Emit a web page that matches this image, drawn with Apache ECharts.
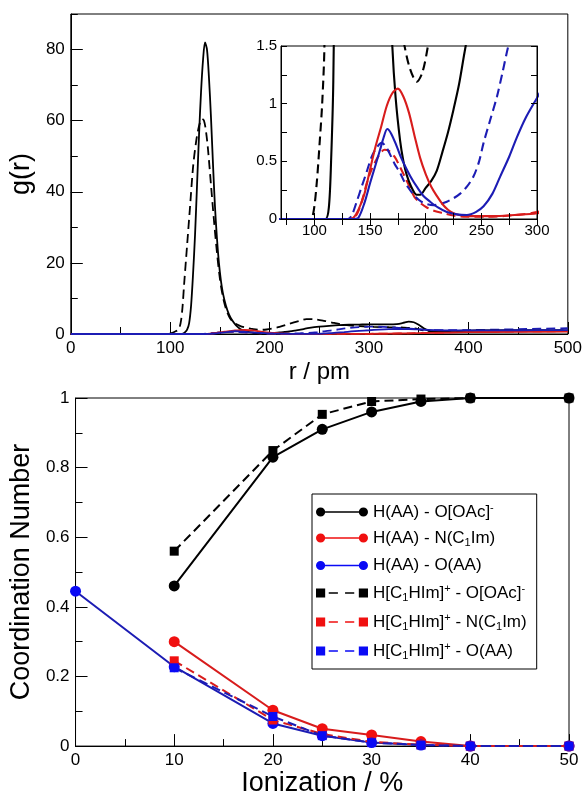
<!DOCTYPE html>
<html><head><meta charset="utf-8">
<script src="https://cdn.jsdelivr.net/npm/echarts@6/dist/echarts.min.js"></script>
<style>html,body{margin:0;padding:0;background:#fff}#c{width:585px;height:798px}</style>
</head><body><div id="c"></div>
<script>
// ---------- Top panel: g(r), pairs of [r / pm, g(r)] ----------
const grHAA_OOAc = [[0,0],[105,0],[110,0],[113,0.1],[115,0.5],[117,1.2],[119,3],[121,8],[123,17],[125,28],[127,42],[129,56],[131,68],[133,77],[135,82],[137,80],[139,72],[141,61],[143,48],[145,36],[147,27],[149,20],[151,15],[153,11.5],[156,8],[159,5.6],[162,4],[166,2.5],[170,1.5],[173,1.05],[177,0.68],[180,0.5],[183,0.38],[187,0.28],[192,0.21],[195,0.21],[200,0.27],[205,0.33],[210,0.42],[215,0.58],[220,0.75],[225,0.95],[230,1.17],[235,1.45],[240,1.7],[250,2.05],[260,2.3],[270,2.5],[280,2.6],[290,2.65],[300,2.7],[310,2.7],[320,2.7],[328,2.8],[334,3.1],[340,3.5],[345,3.3],[350,2.6],[355,1.6],[360,0.9],[366,0.75],[375,0.8],[390,0.9],[410,1.0],[440,1.0],[470,1.0],[500,1.0]];
const grHAA_NC1Im = [[0,0],[130,0],[135,0.01],[140,0.09],[145,0.22],[150,0.43],[155,0.63],[160,0.8],[165,0.98],[170,1.09],[175,1.13],[180,1.06],[185,0.92],[190,0.72],[195,0.53],[200,0.39],[205,0.28],[210,0.2],[215,0.13],[220,0.08],[225,0.05],[230,0.035],[240,0.025],[260,0.025],[280,0.035],[300,0.05],[320,0.1],[340,0.2],[360,0.3],[380,0.4],[400,0.5],[450,0.6],[500,0.65]];
const grHAA_OAA = [[0,0],[135,0],[139.5,0.01],[145,0.14],[150,0.31],[155,0.47],[159,0.6],[162,0.7],[165.5,0.78],[169,0.74],[174,0.63],[178,0.53],[183,0.43],[188,0.34],[192,0.28],[198,0.2],[204,0.15],[211,0.1],[219,0.06],[228,0.04],[237,0.035],[245,0.06],[252,0.11],[260,0.22],[267,0.37],[275,0.54],[282,0.71],[290,0.88],[300,1.05],[310,1.22],[320,1.35],[330,1.4],[340,1.38],[350,1.28],[360,1.15],[380,1.02],[400,1.0],[450,1.05],[500,1.1]];
const grHC1HIm_OOAc = [[0,0],[96,0],[99,0.05],[102,0.3],[105,0.7],[107,1.0],[109,1.5],[111,4],[112.5,8],[114,14],[117,25],[120,36],[123,47],[126,54],[129,58.5],[132,60.5],[134,60],[136,57],[138,52],[141,42],[144,32],[147,23],[150,15.5],[153,10.5],[156,7.2],[160,4.5],[165,3.0],[170,2.3],[175,1.85],[181,1.5],[186,1.3],[192,1.19],[197,1.27],[202,1.5],[210,2.0],[220,2.9],[230,3.7],[237,4.2],[245,4.15],[255,3.7],[265,3.1],[275,2.6],[290,2.2],[305,2.0],[320,1.9],[335,1.8],[345,1.6],[355,1.0],[365,0.7],[380,0.8],[400,0.9],[450,1.0],[500,1.05]];
const grHC1HIm_NC1Im = [[0,0],[132,0],[136,0.01],[140,0.08],[144,0.2],[147,0.31],[151,0.42],[156,0.52],[160,0.58],[163,0.6],[167,0.59],[172,0.54],[177,0.45],[181,0.37],[186,0.27],[190,0.19],[195,0.14],[201,0.1],[208,0.07],[216,0.05],[225,0.03],[234,0.02],[255,0.02],[276,0.03],[300,0.06],[320,0.12],[340,0.2],[360,0.3],[380,0.45],[400,0.55],[450,0.7],[500,0.8]];
const grHC1HIm_OAA = [[0,0],[130,0],[133.5,0.03],[138,0.15],[142.5,0.28],[147,0.41],[151.5,0.54],[156,0.62],[160.5,0.66],[164,0.63],[168,0.56],[172,0.48],[177,0.4],[181,0.32],[186,0.25],[191,0.19],[196,0.15],[201,0.13],[207,0.12],[213,0.13],[219,0.15],[225,0.18],[231,0.22],[237,0.28],[243,0.37],[248,0.5],[252,0.66],[258,0.86],[264,1.06],[269,1.27],[274,1.49],[280,1.7],[290,1.95],[300,2.05],[315,2.0],[330,1.75],[345,1.45],[360,1.15],[380,1.05],[400,1.1],[450,1.35],[500,1.65]];

// Tick labels
const mainXTicks = [0,100,200,300,400,500];
const mainYTicks = [0,20,40,60,80];
const insetXLabels = [100,150,200,250,300];
const insetXTicks = [75,100,125,150,175,200,225,250,275,300];
const insetYLabels = [0,0.5,1,1.5];

// ---------- Bottom panel: coordination numbers ----------
const ionization = [0,10,20,25,30,35,40,50];
const cnHAA_OOAc     = [null,0.46,0.83,0.91,0.96,0.99,1.0,1.0];
const cnHAA_NC1Im    = [null,0.30,0.103,0.05,0.032,0.013,0.0,0.0];
const cnHAA_OAA      = [0.445,0.228,0.065,0.03,0.01,0.003,0.0,0.0];
const cnHC1HIm_OOAc  = [null,0.56,0.849,0.953,0.99,0.997,1.0,1.0];
const cnHC1HIm_NC1Im = [null,0.245,0.075,0.035,0.012,0.004,0.0,0.0];
const cnHC1HIm_OAA   = [null,0.225,0.085,0.03,0.01,0.003,0.0,0.0];

const legendNames = [
  'H(AA) - O[OAc]-', 'H(AA) - N(C1Im)', 'H(AA) - O(AA)',
  'H[C1HIm]+ - O[OAc]-', 'H[C1HIm]+ - N(C1Im)', 'H[C1HIm]+ - O(AA)'
];
const legendRich = {
  'H(AA) - O[OAc]-': '{n|H(AA) - O[OAc]}{sup|-}',
  'H(AA) - N(C1Im)': '{n|H(AA) - N(C}{sub|1}{n|Im)}',
  'H(AA) - O(AA)': '{n|H(AA) - O(AA)}',
  'H[C1HIm]+ - O[OAc]-': '{n|H[C}{sub|1}{n|HIm]}{sup|+}{n| - O[OAc]}{sup|-}',
  'H[C1HIm]+ - N(C1Im)': '{n|H[C}{sub|1}{n|HIm]}{sup|+}{n| - N(C}{sub|1}{n|Im)}',
  'H[C1HIm]+ - O(AA)': '{n|H[C}{sub|1}{n|HIm]}{sup|+}{n| - O(AA)}'
};

// ---------- styling ----------
const FONT = 'Liberation Sans';
const BLACK = '#000000', RED_L = '#d81c1c', RED_M = '#f01010', BLUE_L = '#1c1cb4', BLUE_M = '#0a0af5';
const DASH = [9, 5];
const ICON_CIRCLES = 'path://M0.5,5A4.5,4.5,0,1,1,9.5,5A4.5,4.5,0,1,1,0.5,5ZM8,4.2L43,4.2L43,5.8L8,5.8ZM42.5,5A4.5,4.5,0,1,1,51.5,5A4.5,4.5,0,1,1,42.5,5Z';
const ICON_SQUARES = 'path://M0.5,0.5L9.5,0.5L9.5,9.5L0.5,9.5ZM13,4.2L22,4.2L22,5.8L13,5.8ZM29,4.2L38,4.2L38,5.8L29,5.8ZM42.5,0.5L51.5,0.5L51.5,9.5L42.5,9.5Z';

const grSets = [
  {d: grHC1HIm_OOAc, c: BLACK, dash: true},
  {d: grHC1HIm_NC1Im, c: RED_L, dash: true},
  {d: grHC1HIm_OAA, c: BLUE_L, dash: true},
  {d: grHAA_OOAc, c: BLACK, dash: false},
  {d: grHAA_NC1Im, c: RED_L, dash: false},
  {d: grHAA_OAA, c: BLUE_L, dash: false}
];

const series = [];
grSets.forEach((s, i) => {
  series.push({
    type: 'line', name: 'gmain' + i, xAxisIndex: 0, yAxisIndex: 0, data: s.d,
    showSymbol: false, smooth: 0.3, z: 2, silent: true,
    lineStyle: {color: s.c, width: 1.8, type: s.dash ? DASH : 'solid'}
  });
  series.push({
    type: 'line', name: 'ginset' + i, xAxisIndex: 1, yAxisIndex: 2, data: s.d,
    showSymbol: false, smooth: 0.3, z: 11, clip: true, silent: true,
    lineStyle: {color: s.c, width: 2.1, type: s.dash ? DASH : 'solid'}
  });
});

const cnSets = [
  {v: cnHAA_OOAc, lc: BLACK, mc: BLACK, sym: 'circle', dash: false},
  {v: cnHAA_NC1Im, lc: RED_L, mc: RED_M, sym: 'circle', dash: false},
  {v: cnHAA_OAA, lc: BLUE_L, mc: BLUE_M, sym: 'circle', dash: false},
  {v: cnHC1HIm_OOAc, lc: BLACK, mc: BLACK, sym: 'rect', dash: true},
  {v: cnHC1HIm_NC1Im, lc: RED_L, mc: RED_M, sym: 'rect', dash: true},
  {v: cnHC1HIm_OAA, lc: BLUE_L, mc: BLUE_M, sym: 'rect', dash: true}
];
cnSets.forEach((s, i) => {
  const data = [];
  ionization.forEach((x, k) => { if (s.v[k] !== null) data.push([x, s.v[k]]); });
  series.push({
    type: 'line', name: legendNames[i], xAxisIndex: 3, yAxisIndex: 4, data: data,
    symbol: s.sym, symbolSize: s.sym === 'circle' ? 11 : 9, showSymbol: true, clip: false, z: 3 + i,
    itemStyle: {color: s.mc, borderWidth: 0},
    lineStyle: {color: s.lc, width: 2, type: s.dash ? DASH : 'solid'}
  });
});

const axisLine = {show: true, lineStyle: {color: '#000', width: 1}};
const tickLbl = {color: '#000', fontFamily: FONT, fontSize: 17};

const option = {
  animation: false,
  backgroundColor: '#fff',
  grid: [
    {left: 69, right: 15, top: 14, bottom: 464, show: true, borderColor: '#000', borderWidth: 1, backgroundColor: 'transparent', z: 0},
    {left: 281, right: 48, top: 46, bottom: 579, show: true, borderColor: '#000', borderWidth: 1, backgroundColor: '#fff', z: 10},
    {left: 69, right: 16, top: 398, bottom: 49, show: true, borderColor: '#000', borderWidth: 1, backgroundColor: 'transparent', z: 0}
  ],
  xAxis: [
    {type: 'value', gridIndex: 0, min: 0, max: 500, interval: 100,
     name: 'r / pm', nameLocation: 'middle', nameGap: 26,
     nameTextStyle: {color: '#000', fontFamily: FONT, fontSize: 24},
     axisLine: axisLine, axisTick: {inside: true, length: 12, lineStyle: {color: '#000'}},
     minorTick: {show: true, splitNumber: 2, length: 7, lineStyle: {color: '#000'}},
     axisLabel: Object.assign({margin: 6}, tickLbl), splitLine: {show: false}},
    {type: 'value', gridIndex: 1, min: 70, max: 300, z: 12,
     axisLine: axisLine,
     axisTick: {inside: true, length: 6, customValues: insetXTicks, lineStyle: {color: '#000'}},
     axisLabel: Object.assign({margin: 4, customValues: insetXLabels}, tickLbl, {fontSize: 15}),
     splitLine: {show: false}},
    {type: 'value', gridIndex: 1, min: 70, max: 300, position: 'top', z: 12,
     axisLine: axisLine,
     axisTick: {inside: true, length: 6, customValues: insetXTicks, lineStyle: {color: '#000'}},
     axisLabel: {show: false}, splitLine: {show: false}},
    {type: 'value', gridIndex: 2, min: 0, max: 50, interval: 10,
     name: 'Ionization / %', nameLocation: 'middle', nameGap: 18,
     nameTextStyle: {color: '#000', fontFamily: FONT, fontSize: 27},
     axisLine: axisLine, axisTick: {inside: true, length: 12, lineStyle: {color: '#000'}},
     minorTick: {show: true, splitNumber: 2, length: 7, lineStyle: {color: '#000'}},
     axisLabel: Object.assign({margin: 6}, tickLbl), splitLine: {show: false}}
  ],
  yAxis: [
    {type: 'value', gridIndex: 0, min: 0, max: 90, interval: 20,
     name: 'g(r)', nameLocation: 'middle', nameGap: 27,
     nameTextStyle: {color: '#000', fontFamily: FONT, fontSize: 27},
     axisLine: axisLine, axisTick: {inside: true, length: 12, customValues: mainYTicks, lineStyle: {color: '#000'}},
     axisLabel: Object.assign({margin: 6, customValues: mainYTicks}, tickLbl), splitLine: {show: false}},
    {type: 'value', gridIndex: 0, min: 0, max: 90, interval: 10, position: 'left',
     axisLine: {show: false}, axisTick: {inside: true, length: 7, lineStyle: {color: '#000'}},
     axisLabel: {show: false}, splitLine: {show: false}},
    {type: 'value', gridIndex: 1, min: 0, max: 1.5, interval: 0.25, z: 12,
     axisLine: axisLine, axisTick: {inside: true, length: 6, lineStyle: {color: '#000'}},
     axisLabel: Object.assign({margin: 4, customValues: insetYLabels}, tickLbl, {fontSize: 15}),
     splitLine: {show: false}},
    {type: 'value', gridIndex: 1, min: 0, max: 1.5, interval: 0.25, position: 'right', z: 12,
     axisLine: axisLine, axisTick: {inside: true, length: 6, lineStyle: {color: '#000'}},
     axisLabel: {show: false}, splitLine: {show: false}},
    {type: 'value', gridIndex: 2, min: 0, max: 1, interval: 0.2,
     name: 'Coordination Number', nameLocation: 'middle', nameGap: 32,
     nameTextStyle: {color: '#000', fontFamily: FONT, fontSize: 27},
     axisLine: axisLine, axisTick: {inside: true, length: 12, lineStyle: {color: '#000'}},
     minorTick: {show: true, splitNumber: 2, length: 7, lineStyle: {color: '#000'}},
     axisLabel: Object.assign({margin: 6}, tickLbl), splitLine: {show: false}}
  ],
  legend: {
    show: true, orient: 'vertical', left: 312, top: 494,
    data: legendNames.map((n, i) => ({name: n, icon: i < 3 ? ICON_CIRCLES : ICON_SQUARES})),
    itemWidth: 52, itemHeight: 10, itemGap: 9, padding: [8, 10, 8, 4],
    borderColor: '#000', borderWidth: 1, backgroundColor: '#fff',
    selectedMode: false,
    itemStyle: {borderWidth: 0},
    formatter: n => legendRich[n],
    textStyle: {
      color: '#000', fontFamily: FONT, fontSize: 17,
      rich: {
        n: {fontFamily: FONT, fontSize: 17, lineHeight: 20, color: '#000'},
        sub: {fontFamily: FONT, fontSize: 11, lineHeight: 8, verticalAlign: 'bottom', color: '#000'},
        sup: {fontFamily: FONT, fontSize: 11, lineHeight: 8, verticalAlign: 'top', color: '#000'}
      }
    }
  },
  series: series
};

const chart = echarts.init(document.getElementById('c'), null, {renderer: 'canvas'});
chart.setOption(option);
</script>
</body></html>
